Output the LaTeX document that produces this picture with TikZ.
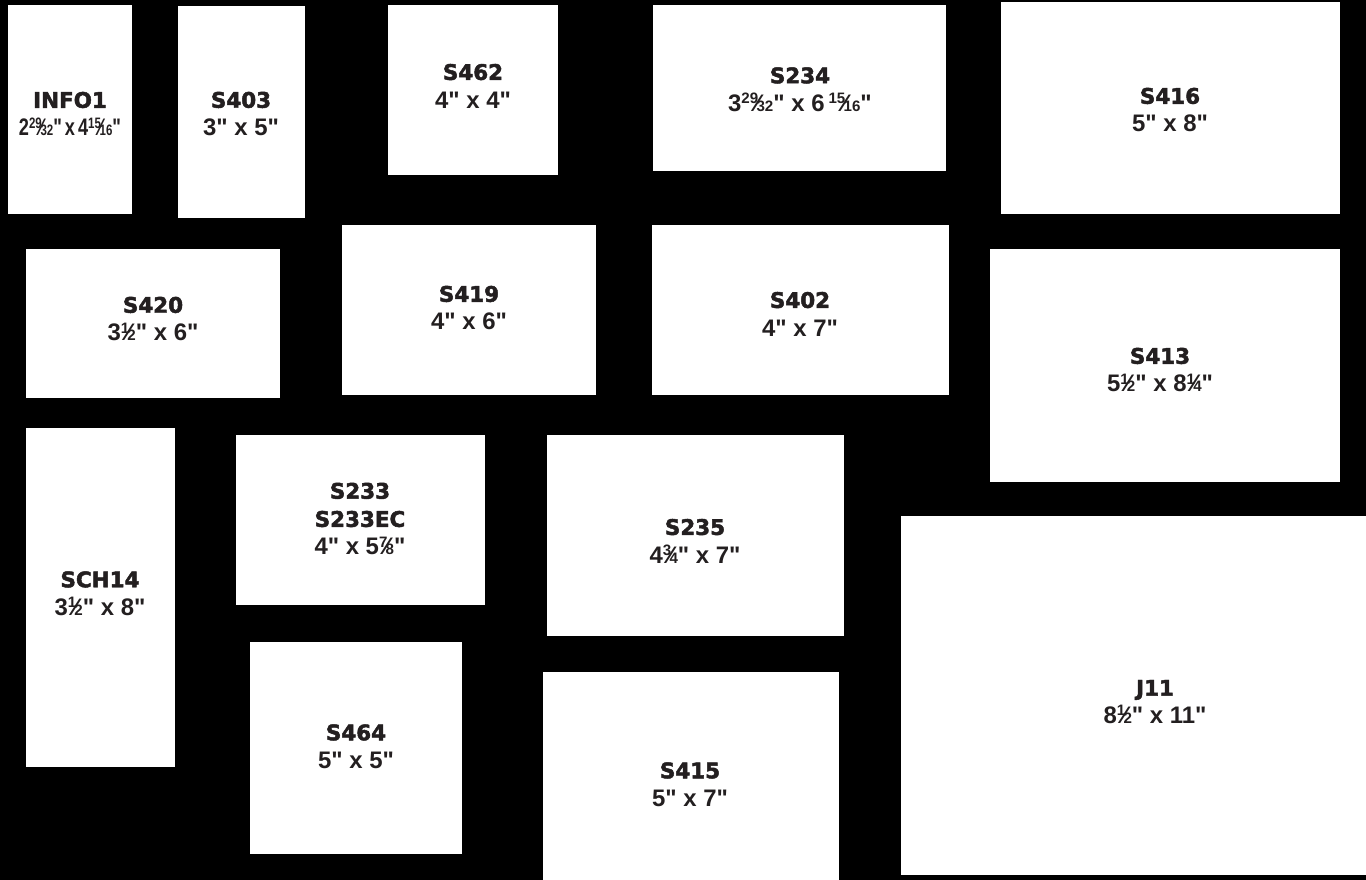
\documentclass[tikz,border=0pt]{standalone}
\usepackage{fontspec}
\setmainfont{Liberation Sans}
\newfontfamily\ttlfamily{DejaVu Sans}[BoldFeatures={FakeBold=2.2}]
\newfontfamily\dimfamily{Liberation Sans}
\usetikzlibrary{positioning}
\definecolor{ink}{HTML}{231F20}
\newcommand\ttl[1]{{\ttlfamily\bfseries\fontsize{6.1}{8}\selectfont #1}}
\newcommand\dims[1]{{\dimfamily\bfseries\fontsize{6.8}{8}\selectfont #1}}
\newcommand\frc[2]{\raisebox{.62ex}{\fontsize{4.3}{4.3}\selectfont #1}\kern-.12em{\fontsize{6.8}{6.8}\selectfont ⁄}\kern-.12em{\fontsize{4.3}{4.3}\selectfont #2}}
\tikzset{
  card/.style={fill=white},
  lbl/.style={text=ink,align=center,inner sep=0pt,font=\fontsize{6.8}{8}\selectfont}
}
\begin{document}
\begin{tikzpicture}[x=0.01cm,y=-0.01cm]
    \fill[black] (0,0) rectangle (1366,880);
    \useasboundingbox (0,0) rectangle (1366,880);

    % top row
    \fill[card] (8,5) rectangle (132,214);
    \node[lbl] (info1) at (70,114) {\ttl{INFO1}\\\scalebox{0.76}[1]{\dims{2\frc{29}{32}"\,x\,4\frc{15}{16}"}}};

    \fill[card] (178,6) rectangle (305,218);
    \node[lbl] (s403) at (241,114) {\ttl{S403}\\\dims{3" x 5"}};

    \fill[card] (388,5) rectangle (558,175);
    \node[lbl] (s462) at (473,86) {\ttl{S462}\\\dims{4" x 4"}};

    \fill[card] (653,5) rectangle (946,171);
    \node[lbl] (s234) at (800,89.5) {\ttl{S234}\\\dims{3\frc{29}{32}" x 6\,\frc{15}{16}"}};

    \fill[card] (1001,2) rectangle (1340,214);
    \node[lbl] (s416) at (1170,110) {\ttl{S416}\\\dims{5" x 8"}};

    % middle row
    \fill[card] (26,249) rectangle (280,398);
    \node[lbl] (s420) at (153,319) {\ttl{S420}\\\dims{3\frc{1}{2}" x 6"}};

    \fill[card] (342,225) rectangle (596,395);
    \node[lbl] (s419) at (469,308) {\ttl{S419}\\\dims{4" x 6"}};

    \fill[card] (652,225) rectangle (949,395);
    \node[lbl] (s402) at (800,314) {\ttl{S402}\\\dims{4" x 7"}};

    \fill[card] (990,249) rectangle (1340,482);
    \node[lbl] (s413) at (1160,370) {\ttl{S413}\\\dims{5\frc{1}{2}" x 8\frc{1}{4}"}};

    % lower rows
    \fill[card] (26,428) rectangle (175,767);
    \node[lbl] (sch14) at (100,593.5) {\ttl{SCH14}\\\dims{3\frc{1}{2}" x 8"}};

    \fill[card] (236,435) rectangle (485,605);
    \node[lbl] (s233) at (360,519) {\ttl{S233}\\\ttl{S233EC}\\\dims{4" x 5\frc{7}{8}"}};

    \fill[card] (547,435) rectangle (844,636);
    \node[lbl] (s235) at (695,541) {\ttl{S235}\\\dims{4\frc{3}{4}" x 7"}};

    \fill[card] (901,516) rectangle (1366,875);
    \node[lbl] (j11) at (1155,702) {\ttl{J11}\\\dims{8\frc{1}{2}" x 11"}};

    \fill[card] (250,642) rectangle (462,854);
    \node[lbl] (s464) at (356,746.5) {\ttl{S464}\\\dims{5" x 5"}};

    \fill[card] (543,672) rectangle (839,880);
    \node[lbl] (s415) at (690,784.5) {\ttl{S415}\\\dims{5" x 7"}};
\end{tikzpicture}
\end{document}
